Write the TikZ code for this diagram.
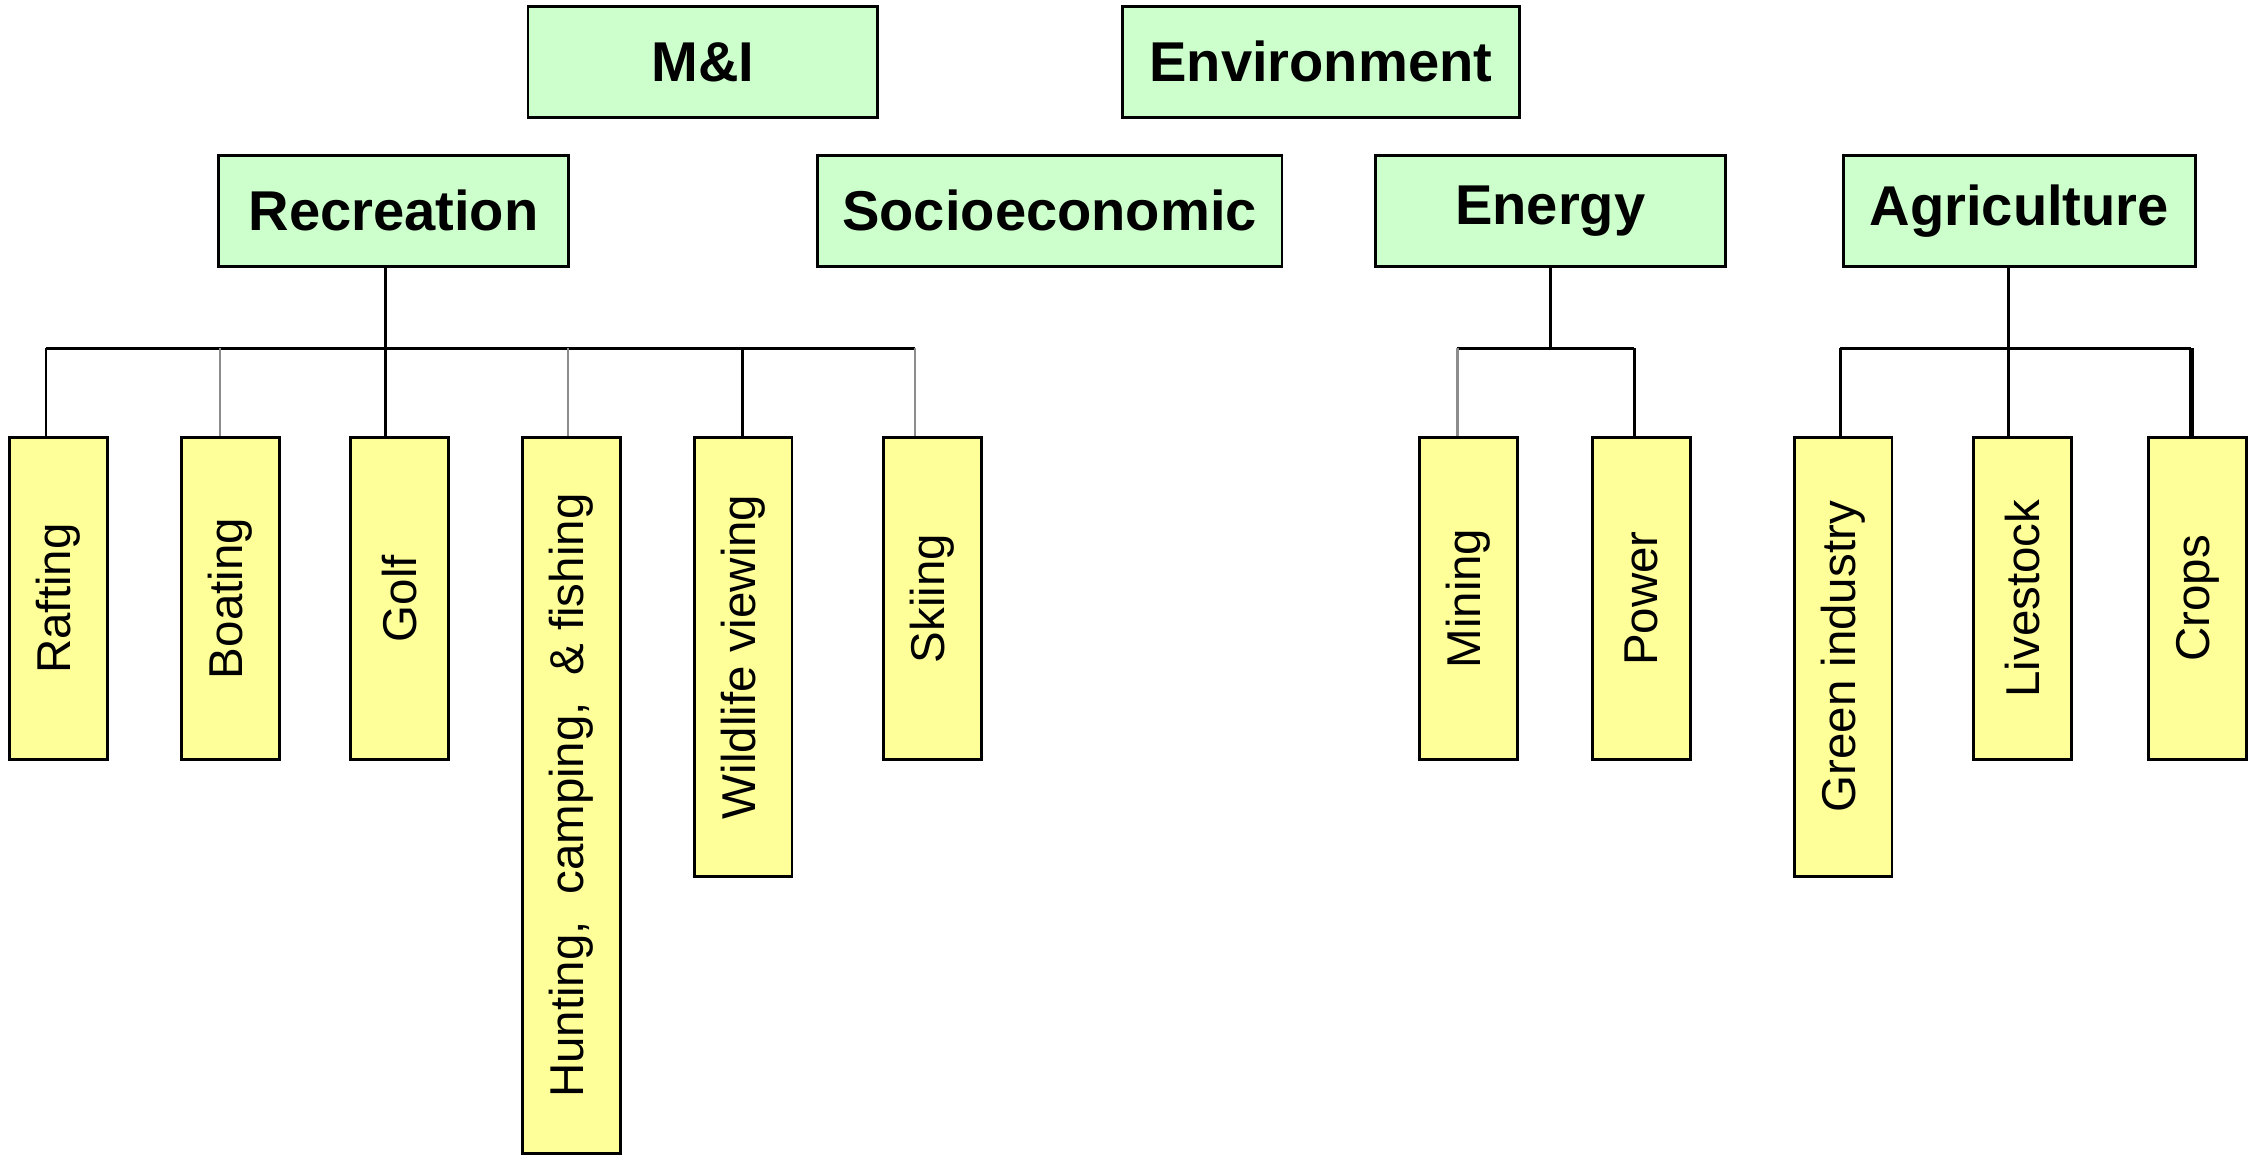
\documentclass[tikz,border=0pt]{standalone}
\usepackage{fontspec}
\setmainfont{Liberation Sans}
\definecolor{gbox}{HTML}{CCFFCC}
\definecolor{ybox}{HTML}{FFFF99}
\begin{document}
\begin{tikzpicture}[x=0.25pt,y=-0.25pt,
  gnode/.style={draw=black,line width=0.5pt,fill=gbox,inner sep=0pt,minimum height=19.25pt,
    font=\fontsize{9.75}{11}\selectfont\bfseries},
  ynode/.style={draw=black,line width=0.5pt,fill=ybox,inner sep=0pt,minimum width=17pt,minimum height=56pt,
    font=\fontsize{8.25}{10}\selectfont},
  blk/.style={draw=black,line width=0.5pt},
  gry/.style={draw=black!45,line width=0.4pt}]
\useasboundingbox (0,0) rectangle (1568,805);
% top level
\node[gnode,minimum width=60.75pt] (mi) at (488.5,43) {M\&I};
\node[gnode,minimum width=69pt] (env) at (918,43) {Environment};
\node[gnode,minimum width=60.75pt] (rec) at (273.5,146.5) {Recreation};
\node[gnode,minimum width=80.75pt] (soc) at (729.5,146.5) {Socioeconomic};
\node[gnode,minimum width=60.75pt] (ene) at (1077.5,146.5) {Energy};
\node[gnode,minimum width=61.25pt] (agr) at (1403.5,146.5) {Agriculture};
% leaves
\node[ynode] (raft) at (40.5,416) {\rotatebox{90}{Rafting}};
\node[ynode] (boat) at (160,416) {\rotatebox{90}{Boating}};
\node[ynode] (golf) at (277.5,416) {\rotatebox{90}{Golf}};
\node[ynode,minimum height=124.5pt] (hunt) at (397,553) {\rotatebox{90}{Hunting,\ \ camping,\ \ \& fishing}};
\node[ynode,minimum height=76.25pt] (wild) at (516.5,456.5) {\rotatebox{90}{Wildlife viewing}};
\node[ynode] (ski) at (648,416) {\rotatebox{90}{Skiing}};
\node[ynode] (min) at (1020.5,416) {\rotatebox{90}{Mining}};
\node[ynode] (pow) at (1141,416) {\rotatebox{90}{Power}};
\node[ynode,minimum height=76.25pt] (grn) at (1281,456.5) {\rotatebox{90}{Green industry}};
\node[ynode] (liv) at (1405.5,416) {\rotatebox{90}{Livestock}};
\node[ynode] (crp) at (1527.5,416) {\rotatebox{90}{Crops}};
% bar coordinates
\coordinate (r1) at (32,242);
\coordinate (r2) at (153,242);
\coordinate (r3) at (268,242);
\coordinate (r4) at (395,242);
\coordinate (r5) at (516,242);
\coordinate (r6) at (636,242);
\coordinate (e1) at (1013,242);
\coordinate (e2) at (1136,242);
\coordinate (a1) at (1279,242);
\coordinate (a2) at (1396,242);
\coordinate (a3) at (1523,242);
% recreation
\draw[blk] (r3 |- rec.south) -- (r3);
\draw[blk] (r1) -- (r6);
\draw[blk] (r1) -- (r1 |- raft.north);
\draw[gry] (r2) -- (r2 |- boat.north);
\draw[blk] (r3) -- (r3 |- golf.north);
\draw[gry] (r4) -- (r4 |- hunt.north);
\draw[blk] (r5) -- (r5 |- wild.north);
\draw[gry] (r6) -- (r6 |- ski.north);
% energy
\draw[blk] (e1 -| ene.south) -- (ene.south);
\draw[blk] (e1) -- (e2);
\draw[gry] (e1) -- (e1 |- min.north);
\draw[blk] (e2) -- (e2 |- pow.north);
% agriculture
\draw[blk] (a2) -- (a2 |- agr.south);
\draw[blk] (a1) -- (a3);
\draw[blk] (a1) -- (a1 |- grn.north);
\draw[blk] (a2) -- (a2 |- liv.north);
\draw[blk,line width=0.8pt] (a3) -- (a3 |- crp.north);
\end{tikzpicture}
\end{document}
